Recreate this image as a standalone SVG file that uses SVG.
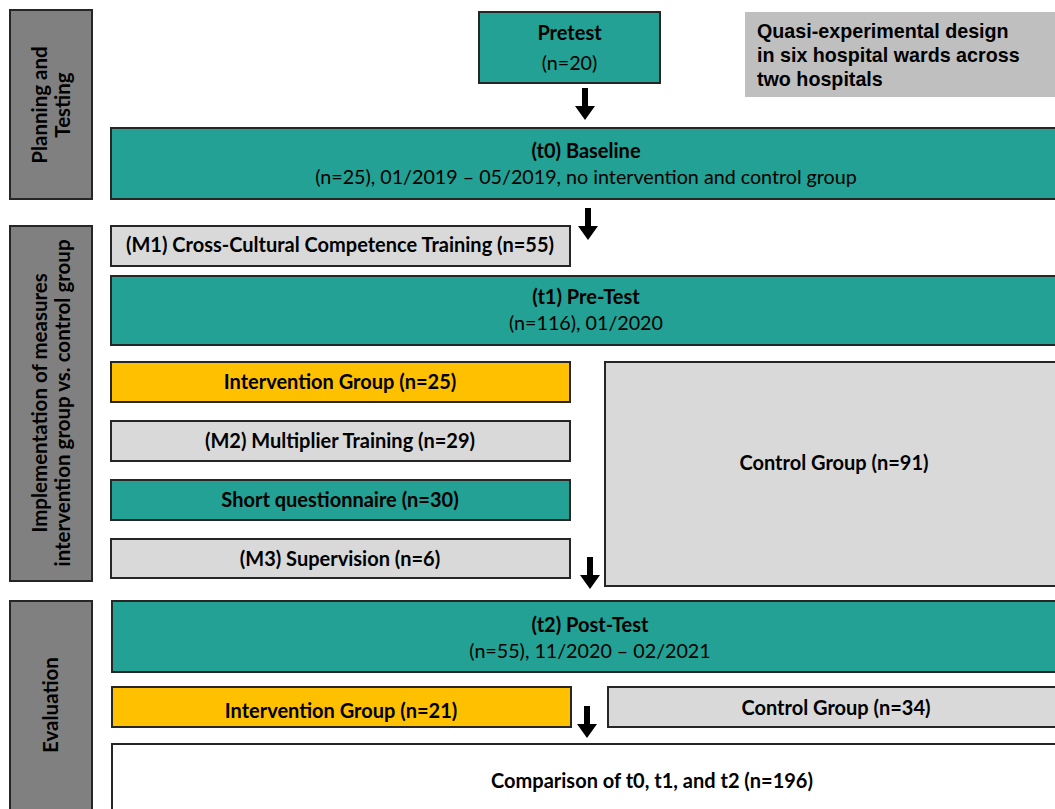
<svg xmlns="http://www.w3.org/2000/svg" width="1055" height="809" viewBox="0 0 1055 809">
<style>
.lab{fill:#808080;stroke:#262626;stroke-width:2}
.teal{fill:#22a194;stroke:#262626;stroke-width:2}
.gray{fill:#d9d9d9;stroke:#262626;stroke-width:2}
.yel{fill:#ffc000;stroke:#262626;stroke-width:2}
.wht{fill:#ffffff;stroke:#262626;stroke-width:2}
text{font-family:Lato,"Open Sans",sans-serif;font-size:19.7px;fill:#000;text-anchor:middle}
.b{font-weight:bold;font-size:20px}
.vl{font-weight:bold;font-size:20.5px}
.note{font-family:"Liberation Sans",Arial,sans-serif;font-weight:bold;font-size:19.7px;text-anchor:start}
</style>
<defs>
<polygon id="arr" points="-3,0 3,0 3,18 10,18 0,32 -10,18 -3,18"/>
</defs>
<rect width="1055" height="809" fill="#fff"/>
<g id="phase1"><rect class="lab" x="10" y="10" width="82" height="189"/>
<text class="vl" transform="translate(51,105) rotate(-90)"><tspan x="0" y="-4">Planning and</tspan><tspan x="0" y="19">Testing</tspan></text></g>
<g id="phase2"><rect class="lab" x="10" y="226" width="82" height="355"/>
<text class="vl" transform="translate(51,403) rotate(-90)"><tspan x="0" y="-4">Implementation of measures</tspan><tspan x="0" y="19">intervention group vs. control group</tspan></text></g>
<g id="phase3"><rect class="lab" x="10" y="601" width="82" height="220"/>
<text class="vl" transform="translate(51,705) rotate(-90)"><tspan x="0" y="7">Evaluation</tspan></text></g>
<g id="pretest"><rect class="teal" x="479" y="12" width="181" height="71"/>
<text class="b" x="569.5" y="40">Pretest</text><text x="569.5" y="70">(n=20)</text></g>
<g id="note"><rect x="745" y="12" width="310" height="85" fill="#bfbfbf"/>
<text class="note" x="757" y="38">Quasi-experimental design</text>
<text class="note" x="757" y="62">in six hospital wards across</text>
<text class="note" x="757" y="86">two hospitals</text></g>
<g id="t0"><rect class="teal" x="111" y="128" width="950" height="71"/>
<text class="b" x="586" y="158">(t0) Baseline</text>
<text x="586" y="184">(n=25), 01/2019 – 05/2019, no intervention and control group</text></g>
<g id="m1"><rect class="gray" x="111" y="226" width="459" height="40"/>
<text class="b" x="340" y="252">(M1) Cross-Cultural Competence Training (n=55)</text></g>
<g id="t1"><rect class="teal" x="111" y="276" width="950" height="69"/>
<text class="b" x="586" y="304">(t1) Pre-Test</text>
<text x="586" y="330">(n=116), 01/2020</text></g>
<g id="ig1"><rect class="yel" x="111" y="362" width="459" height="40"/>
<text class="b" x="340" y="389">Intervention Group (n=25)</text></g>
<g id="m2"><rect class="gray" x="111" y="421" width="459" height="40"/>
<text class="b" x="340" y="448">(M2) Multiplier Training (n=29)</text></g>
<g id="sq"><rect class="teal" x="111" y="480" width="459" height="40"/>
<text class="b" x="340" y="507">Short questionnaire (n=30)</text></g>
<g id="m3"><rect class="gray" x="111" y="539" width="459" height="39"/>
<text class="b" x="340" y="566">(M3) Supervision (n=6)</text></g>
<g id="cg1"><rect class="gray" x="605" y="362" width="456" height="224"/>
<text class="b" x="834" y="470">Control Group (n=91)</text></g>
<g id="t2"><rect class="teal" x="112" y="601" width="949" height="71"/>
<text class="b" x="590" y="632">(t2) Post-Test</text>
<text x="590" y="658">(n=55), 11/2020 –  02/2021</text></g>
<g id="ig2"><rect class="yel" x="112" y="687" width="459" height="40"/>
<text class="b" x="341" y="718">Intervention Group (n=21)</text></g>
<g id="cg2"><rect class="gray" x="608" y="687" width="453" height="40"/>
<text class="b" x="836" y="715">Control Group (n=34)</text></g>
<g id="cmp"><rect class="wht" x="112" y="744" width="949" height="80"/>
<text class="b" x="652" y="788">Comparison of t0, t1, and t2 (n=196)</text></g>
<g id="connectors" fill="#000">
<use href="#arr" x="585" y="88"/>
<use href="#arr" x="588" y="208"/>
<use href="#arr" x="590" y="557"/>
<use href="#arr" x="587" y="706"/>
</g>
</svg>
